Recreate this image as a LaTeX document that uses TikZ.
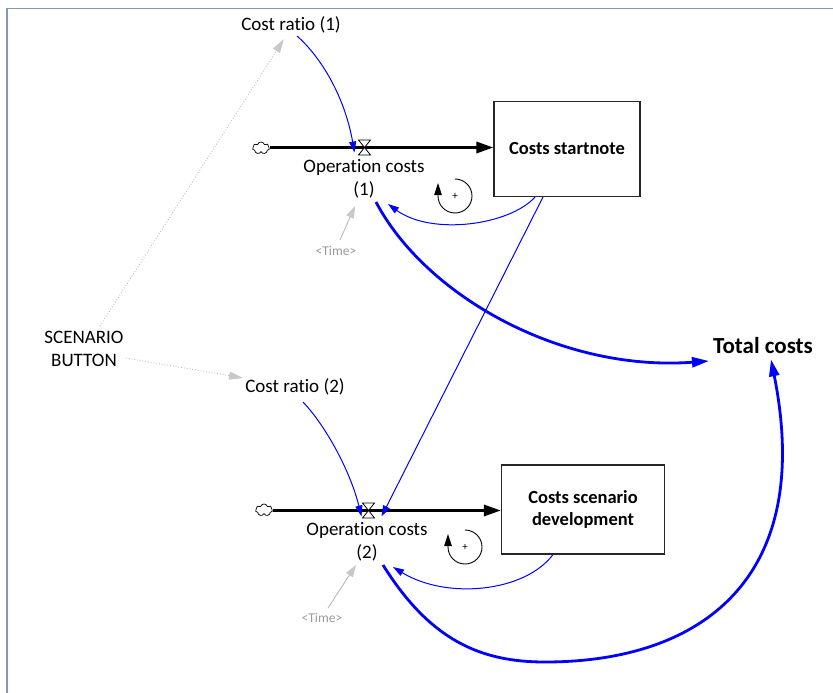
\documentclass[tikz,border=0pt]{standalone}
\usepackage{fontspec}
\setmainfont[Ligatures=NoCommon]{Carlito}
\usetikzlibrary{arrows.meta,shapes.symbols,calc}
\definecolor{framec}{HTML}{8496B0}
\definecolor{dotgrey}{HTML}{B4B4B4}
\definecolor{tipgrey}{HTML}{C8C8C8}
\definecolor{timegrey}{HTML}{9A9A9A}
\begin{document}
\begin{tikzpicture}[x=1pt,y=-1pt,
  lbl/.style={font=\fontsize{19}{23}\selectfont, align=center, inner sep=0pt},
  stock/.style={draw=black!85, line width=1.1pt, fill=white, align=center,
    font=\bfseries\fontsize{18.5}{22}\selectfont},
  timelbl/.style={font=\fontsize{13.5}{16}\selectfont, text=timegrey, inner sep=0pt},
  cloudsrc/.style={cloud, cloud puffs=7, draw, line width=0.7pt, fill=white,
    minimum width=17pt, minimum height=12pt, inner sep=0pt, aspect=1.5},
  pipe/.style={draw=black, line width=3pt, -{Triangle[length=17pt,width=11pt]}},
  blu/.style={draw=blue, line width=1pt, -{Triangle[length=11pt,width=7pt]}},
  blubold/.style={draw=blue, line width=2.8pt, -{Triangle[length=17pt,width=10pt]}},
  greyarr/.style={draw=dotgrey, line width=0.8pt, -{Triangle[length=12pt,width=8pt,color=tipgrey]}},
  dotarr/.style={draw=dotgrey, line width=0.8pt, dotted, -{Triangle[length=14pt,width=8pt,color=tipgrey]}},
  loopmark/.style={draw=black, line width=0.9pt, -{Triangle[length=12pt,width=7.5pt]}},
  valvestyle/.style={draw=black, line width=0.8pt, fill=white}
]
\fill[white] (0,0) rectangle (833,693);
\useasboundingbox (0,0) rectangle (833,693);
% frame
\draw[framec, line width=1.5pt] (7,693) -- (7,8.5) -- (833,8.5);

% nodes
\node[lbl] (cr1) at (291,25) {Cost ratio (1)};
\node[lbl] (cr2) at (295,387) {Cost ratio (2)};
\node[lbl] (sb) at (84,349) {SCENARIO\\BUTTON};
\node[stock, minimum width=146pt, minimum height=95pt] (s1) at (567,149) {Costs startnote};
\node[stock, minimum width=163pt, minimum height=89pt] (s2) at (583,509.5) {Costs scenario\\development};
\node[font=\bfseries\fontsize{23}{27}\selectfont, inner sep=0pt] (tc) at (763,346) {Total costs};
\node[lbl] (oc1) at (364,179) {Operation costs\\(1)};
\node[lbl] (oc2) at (367,542) {Operation costs\\(2)};
\node[timelbl] (t1) at (336,251) {<Time>};
\node[timelbl] (t2) at (322,618) {<Time>};
\node[cloudsrc] (cl1) at (261,148) {};
\node[cloudsrc] (cl2) at (264,510) {};
\coordinate (v1) at (364.5,147.5);
\coordinate (v2) at (368.5,510.5);
\coordinate (loop1) at (455,196);
\coordinate (loop2) at (465,547);

% pipes
\draw[pipe] (cl1.east |- v1) -- (v1 -| s1.west);
\draw[pipe] (cl2.east |- v2) -- (v2 -| s2.west);
% valves
\draw[valvestyle] ($(v1)+(-6,-7.5)$) -- ($(v1)+(6,-7.5)$) -- ($(v1)+(-6,7.5)$) -- ($(v1)+(6,7.5)$) -- cycle;
\draw[valvestyle] ($(v2)+(-6,-7.5)$) -- ($(v2)+(6,-7.5)$) -- ($(v2)+(-6,7.5)$) -- ($(v2)+(6,7.5)$) -- cycle;

% loop markers
\draw[loopmark] ($(loop1)+(0,-17)$) arc[start angle=-90, end angle=180, radius=17] -- ++(0,-13);
\node[font=\fontsize{11}{12}\selectfont, inner sep=0pt] (plus1) at (loop1) {+};
\draw[loopmark] ($(loop2)+(0,-17)$) arc[start angle=-90, end angle=180, radius=17] -- ++(0,-13);
\node[font=\fontsize{11}{12}\selectfont, inner sep=0pt] (plus2) at (loop2) {+};

% dotted grey arrows from scenario button
\draw[dotarr] ($(sb)+(16,-23)$) -- ($(cr1)+(-7,14)$);
\draw[dotarr] ($(sb)+(42,9)$) -- ($(cr2)+(-52,-9)$);

% time arrows
\draw[greyarr] ($(t1)+(4,-11)$) -- ($(oc1)+(-9,27)$);
\draw[greyarr] ($(t2)+(6,-10)$) -- ($(oc2)+(-11,23)$);

% blue info links
\draw[blu] ($(cr1)+(6,11)$) .. controls (322,58) and (345,98) .. ($(v1)+(-10,5)$);
\draw[blu] ($(cr2)+(8,15)$) .. controls (325,425) and (350,470) .. ($(v2)+(-7,6)$);
\draw[blu] ($(s1.south)+(-32,0)$) .. controls (510,225) and (432,236) .. ($(oc1)+(24,25)$);
\draw[blu] ($(s1.south)+(-24,0)$) -- ($(v2)+(13,6)$);
\draw[blu] ($(s2.south)+(-30,0)$) .. controls (525,592) and (447,600) .. ($(oc2)+(26,25)$);

% bold links to total costs
\draw[blubold] ($(oc1)+(12,23)$) .. controls (425,295) and (560,372) .. ($(tc.west)+(-4,15)$);
\draw[blubold] ($(oc2)+(16,23)$) .. controls (430,640) and (480,662) .. (545,662)
   .. controls (700,662) and (815,580) .. ($(tc.south)+(8,5)$);
\end{tikzpicture}
\end{document}
